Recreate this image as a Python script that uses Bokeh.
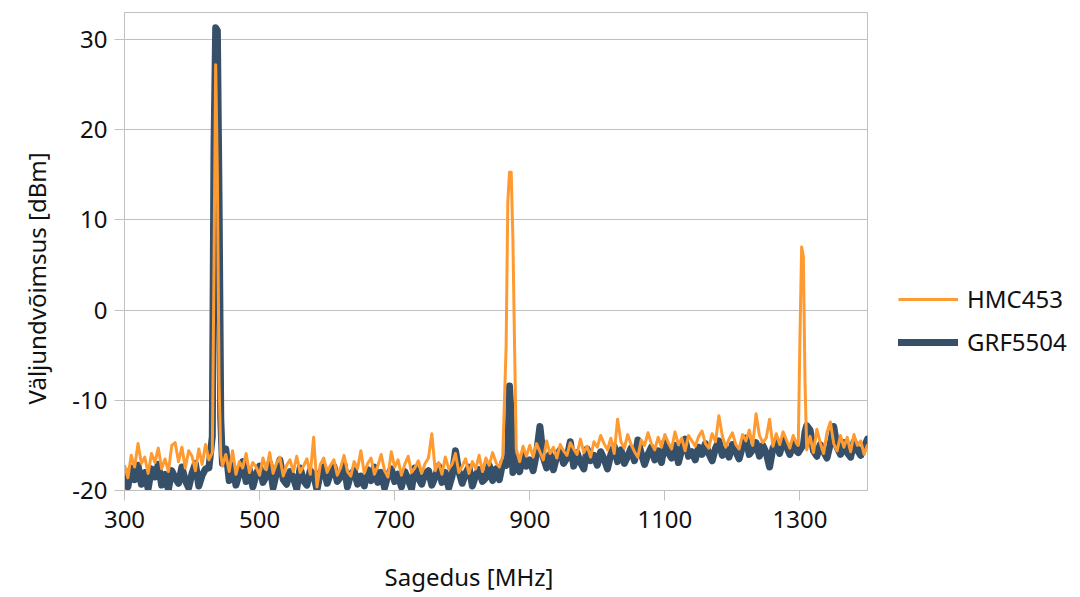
import numpy as np
from bokeh.plotting import figure
from bokeh.models import (Range1d, FixedTicker, Legend, LegendItem, Title,
                          PrintfTickFormatter)
from bokeh.embed import file_html
from bokeh.resources import INLINE

# Spectrum sweep: 300..1400 MHz on a 5 MHz grid, plus extra samples around the tones
freq_start, freq_stop, freq_step = 300, 1400, 5
extra_freq = [432.5, 437.5, 442.5, 867.5, 872.5, 877.5, 1297.5, 1302.5, 1307.5]

# HMC453 output power [dBm] on the 5 MHz grid
hmc453 = [
    -17.2, -18.6, -16.1, -17.4, -14.8, -17.0, -16.3, -18.1, -15.9, -16.9,
    -15.3, -17.6, -16.5, -17.9, -15.0, -14.7, -16.8, -15.2, -17.5, -15.6,
    -16.2, -17.8, -15.4, -17.1, -14.9, -16.6, -15.8, 27.2, -8.0, -17.3,
    -16.0, -17.9, -15.6, -18.2, -16.8, -17.5, -15.9, -18.0, -16.9, -17.4,
    -18.3, -16.4, -17.7, -15.8, -18.1, -17.0, -16.3, -18.4, -17.2, -16.6,
    -17.9, -16.2, -18.0, -17.3, -16.5, -18.2, -14.1, -19.6, -17.1, -16.4,
    -18.0, -17.2, -16.6, -18.3, -17.5, -16.1, -17.9, -18.4, -16.8, -17.6,
    -15.6, -18.1, -17.0, -16.4, -18.2, -17.3, -16.0, -17.8, -18.5, -15.7,
    -17.4, -16.6, -18.3, -17.1, -16.2, -18.0, -17.5, -16.7, -18.1, -17.0,
    -16.4, -13.7, -17.8, -16.9, -18.2, -16.3, -17.6, -17.1, -15.9, -18.0,
    -17.3, -16.5, -18.1, -16.8, -17.6, -16.1, -17.9, -16.4, -17.2, -15.8,
    -16.9, -17.4, -16.2, -4.0, 15.3, 8.0, -15.4, -16.8, -15.1, -16.2,
    -15.0, -16.3, -14.8, -15.7, -16.6, -14.5, -15.9, -15.2, -16.4, -14.9,
    -15.6, -16.1, -14.7, -15.4, -16.0, -14.3, -15.8, -15.1, -16.3, -14.6,
    -15.2, -13.9, -14.8, -15.5, -14.2, -15.9, -12.1, -14.6, -15.3, -13.8,
    -14.9, -15.7, -16.3, -14.4, -15.0, -13.6, -14.8, -15.5, -14.1, -15.2,
    -13.8, -14.7, -15.4, -13.5, -14.9, -14.2, -15.6, -13.9, -14.5, -15.1,
    -14.0, -13.4, -14.8, -15.3, -13.7, -14.6, -11.7, -13.9, -15.2, -14.3,
    -13.6, -14.9, -15.4, -13.8, -14.5, -13.3, -15.0, -11.5, -13.9, -14.7,
    -14.2, -12.1, -15.1, -13.7, -14.9, -13.5, -14.4, -15.3, -13.9, -14.8,
    -3.0, 6.0, -15.5, -14.0, -15.8, -13.2, -14.7, -15.9, -13.6, -12.4,
    -14.8, -15.6, -13.9, -15.2, -14.1, -15.7, -13.8, -15.0, -14.5, -16.0,
    -14.9,
]
hmc453_extra = [5.0, 15.0, -16.0, 12.0, 15.3, -4.0, -15.0, 7.0, -8.0]

# GRF5504 output power [dBm] on the 5 MHz grid
grf5504 = [
    -18.4, -19.6, -17.5, -18.8, -17.2, -19.3, -18.0, -19.8, -17.6, -18.5,
    -17.1, -19.4, -18.2, -19.9, -17.8, -18.6, -19.2, -17.4, -18.9, -19.7,
    -18.1, -17.0, -19.5, -18.3, -17.6, -17.5, -14.0, 31.3, 12.0, -17.0,
    -15.4, -18.9, -17.2, -19.4, -18.1, -16.8, -19.0, -17.7, -19.6, -18.2,
    -17.3, -19.1, -18.4, -17.0, -19.7, -18.0, -16.6, -18.8, -19.3, -17.9,
    -18.6, -19.8, -17.5, -18.9, -19.4, -17.8, -18.3, -19.9, -18.0, -17.4,
    -19.2, -18.1, -17.3, -19.0, -18.5, -17.1, -19.6, -18.2, -17.8, -19.3,
    -18.4, -19.5, -17.7, -18.9, -17.4, -19.1, -18.0, -19.7, -18.3, -17.6,
    -19.0, -18.2, -19.6, -17.9, -18.8, -19.8, -17.5, -18.6, -19.3, -18.1,
    -17.8, -19.4, -18.5, -17.3, -19.1, -18.0, -19.7, -18.4, -15.6, -17.9,
    -19.2, -18.1, -17.4, -19.5, -18.3, -17.7, -19.0, -18.6, -17.2, -18.9,
    -17.6, -18.8, -16.9, -17.2, -8.4, -18.0, -16.4, -17.9, -16.1, -17.3,
    -16.6, -17.8, -15.9, -12.9, -16.3, -17.5, -16.0, -17.7, -16.2, -15.5,
    -17.0, -16.4, -14.6, -17.3, -15.8, -16.9, -17.6, -15.4, -16.7, -16.1,
    -17.2, -15.7, -16.5, -17.6, -16.0, -15.1, -16.8, -15.5, -17.0, -16.2,
    -15.3, -16.7, -14.4, -15.9, -17.1, -16.0, -15.2, -16.6, -15.6, -16.9,
    -14.6, -15.8, -16.4, -15.0, -16.9, -15.5, -14.3, -16.2, -15.7, -16.6,
    -15.2, -16.0, -14.8, -15.9, -16.7, -15.3, -14.5, -16.1, -15.4, -16.3,
    -14.9, -15.7, -16.5, -15.1, -14.2, -16.0, -15.5, -14.7, -16.2, -15.0,
    -15.8, -17.4, -15.3, -14.6, -15.9, -14.4, -15.1, -16.0, -14.8, -15.6,
    -15.5, -15.0, -12.8, -13.3, -15.6, -16.2, -14.9, -15.7, -16.4, -14.8,
    -12.9, -15.2, -16.0, -14.7, -15.8, -16.3, -14.6, -15.5, -16.1, -15.2,
    -14.3,
]
grf5504_extra = [18.0, 31.0, -12.0, -16.0, -12.0, -17.0, -15.8, -15.2, -13.5]

series_names = ["HMC453", "GRF5504"]
x_title = "Sagedus [MHz]"
y_title = "Väljundvõimsus [dBm]"
x_ticks = [300, 500, 700, 900, 1100, 1300]
y_ticks = [-20, -10, 0, 10, 20, 30]

grid = np.arange(freq_start, freq_stop + 1, freq_step, dtype=float)
assert len(grid) == len(hmc453) == len(grf5504)

f_all = np.concatenate([grid, np.array(extra_freq)])
order = np.argsort(f_all, kind="stable")
f_all = f_all[order]
hmc_all = np.concatenate([hmc453, hmc453_extra])[order]
grf_all = np.concatenate([grf5504, grf5504_extra])[order]

FONT = "Noto Sans"
ORANGE = "#FF9A30"
NAVY = "#36506A"
GRID = "#C0C0C0"
INK = "#111111"

p = figure(frame_width=743, frame_height=478, output_backend="svg", toolbar_location=None,
           x_range=Range1d(300, 1400), y_range=Range1d(-20, 33),
           min_border_left=124, min_border_right=213,
           min_border_top=12, min_border_bottom=107)
p.background_fill_color = "white"
p.border_fill_color = "white"
p.outline_line_color = GRID
p.outline_line_width = 1

r_grf = p.line(f_all, grf_all, line_color=NAVY, line_width=7, line_join="round", line_cap="round")
r_hmc = p.line(f_all, hmc_all, line_color=ORANGE, line_width=3, line_join="round")

p.xaxis.ticker = FixedTicker(ticks=x_ticks)
p.yaxis.ticker = FixedTicker(ticks=y_ticks)
p.xaxis.formatter = PrintfTickFormatter(format="%d")
p.yaxis.formatter = PrintfTickFormatter(format="%d")
p.xgrid.grid_line_color = None
p.ygrid.grid_line_color = GRID
p.ygrid.grid_line_width = 1

for ax in (p.xaxis[0], p.yaxis[0]):
    ax.axis_line_color = GRID
    ax.major_tick_line_color = GRID
    ax.major_tick_out = 10
    ax.major_tick_in = 0
    ax.minor_tick_line_color = None
    ax.major_label_text_font = FONT
    ax.major_label_text_font_size = "24px"
    ax.major_label_text_color = INK
p.xaxis.major_label_standoff = 10
p.yaxis.major_label_standoff = 7

# axis titles, placed in the side panels next to the axes
p.add_layout(Title(text=x_title, align="left", offset=260, standoff=55,
                   text_font=FONT, text_font_size="24px", text_font_style="normal",
                   text_color=INK), "below")
p.add_layout(Title(text=y_title, align="left", offset=86, standoff=30,
                   vertical_align="top",
                   text_font=FONT, text_font_size="24px", text_font_style="normal",
                   text_color=INK), "left")

legend = Legend(items=[LegendItem(label=series_names[0], renderers=[r_hmc]),
                       LegendItem(label=series_names[1], renderers=[r_grf])],
                location=(31, 132), orientation="vertical",
                background_fill_alpha=0, border_line_color=None,
                padding=0, margin=0, spacing=10,
                glyph_width=60, glyph_height=30, label_standoff=9,
                label_text_font=FONT, label_text_font_size="24px",
                label_text_color=INK)
p.add_layout(legend, "right")

open("out.html", "w").write(file_html(p, INLINE))
